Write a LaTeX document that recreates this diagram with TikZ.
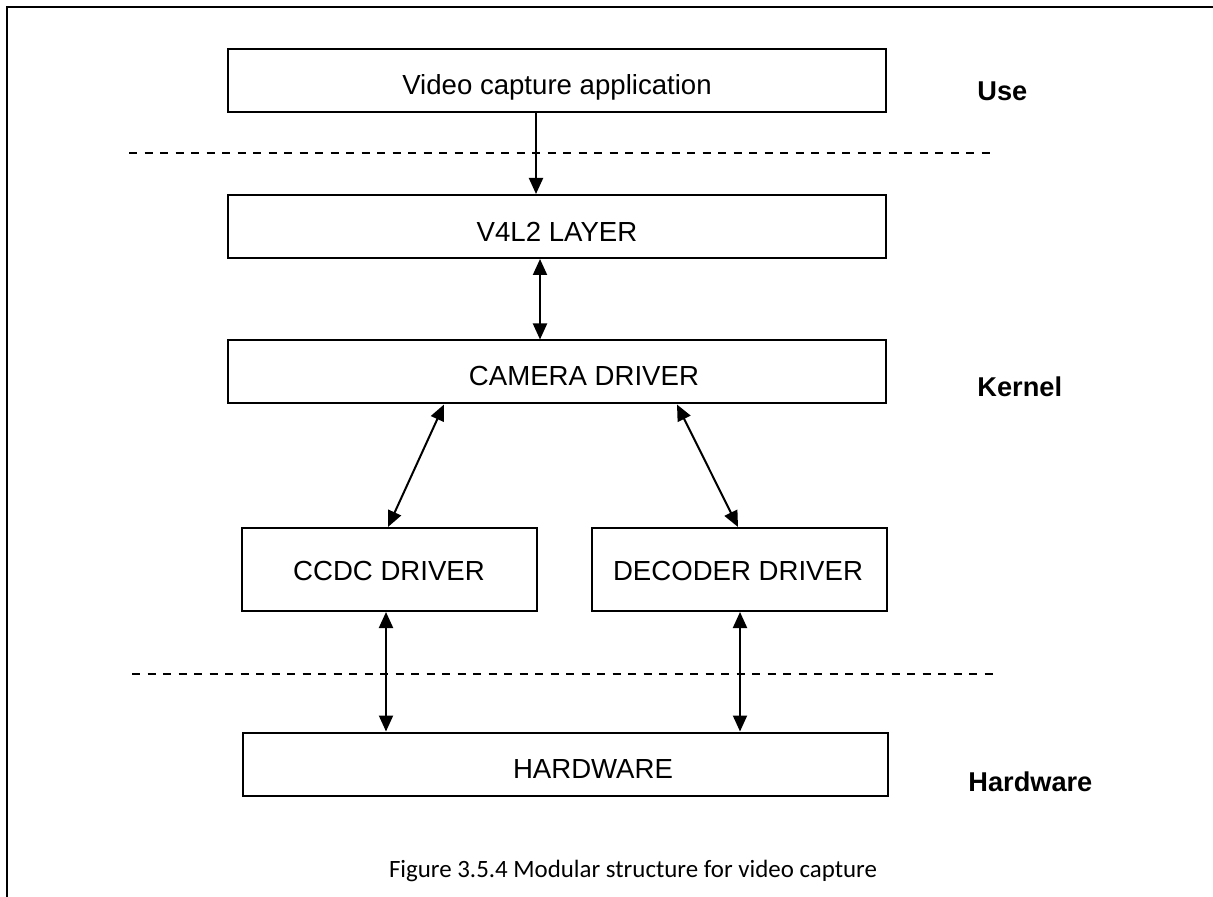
\documentclass[tikz,border=0pt]{standalone}
\usepackage{fontspec}
\setmainfont{Liberation Sans}
\newfontfamily\capfont{Carlito}
\usetikzlibrary{arrows.meta}
\begin{document}
\begin{tikzpicture}[x=0.5pt,y=-0.5pt,
  layer/.style={draw, line width=1pt, inner sep=0pt, minimum height=31.5pt},
  wide/.style={layer, minimum width=329pt},
  drv/.style={layer, minimum width=147.5pt, minimum height=41.5pt},
  boxtext/.style={anchor=base, inner sep=0pt, font=\fontsize{13.8}{16}\selectfont},
  side/.style={anchor=base west, inner sep=0pt, font=\fontsize{13.6}{16}\selectfont\bfseries},
  tip/.style={Triangle[length=8pt,width=7pt]},
  link/.style={line width=1pt, -{Triangle[length=8pt,width=7pt]}},
  both/.style={line width=1pt, {Triangle[length=8pt,width=7pt]}-{Triangle[length=8pt,width=7pt]}},
  divider/.style={line width=1pt, dash pattern=on 4pt off 3.75pt}]
\useasboundingbox (0,0) rectangle (1213,897);

% page frame (top and left rules)
\draw[line width=1.4pt] (7,897) -- (7,7) -- (1213,7);

% layer boxes
\node[wide] (app) at (557,80.5) {};
\node[wide] (v4l2) at (557,226.5) {};
\node[wide] (cam) at (557,372) {};
\node[drv] (ccdc) at (389,569.5) {};
\node[drv] (dec) at (739.5,569.5) {};
\node[layer, minimum width=322.5pt] (hw) at (565.5,764) {};

% box captions
\node[boxtext] (appT) at (557,95) {Video capture application};
\node[boxtext] (v4l2T) at (557,242) {V4L2 LAYER};
\node[boxtext] (camT) at (584,386) {CAMERA DRIVER};
\node[boxtext] (ccdcT) at (389,580) {CCDC DRIVER};
\node[boxtext] (decT) at (738,580) {DECODER DRIVER};
\node[boxtext] (hwT) at (593,778) {HARDWARE};

% layer names
\node[side] (useL) at (977,101) {Use};
\node[side] (kernL) at (977,396) {Kernel};
\node[side] (hwL) at (968,791) {Hardware};

% layer boundaries
\coordinate (d1a) at (129,153);
\coordinate (d1b) at (991,153);
\coordinate (d2a) at (132,674);
\coordinate (d2b) at (993,674);
\draw[divider] (d1a) -- (d1b);
\draw[divider] (d2a) -- (d2b);

% connector columns
\coordinate (xa) at (536,0);
\coordinate (xb) at (540,0);
\coordinate (xc) at (444,0);
\coordinate (xd) at (388,0);
\coordinate (xe) at (677,0);
\coordinate (xf) at (738,0);
\coordinate (xg) at (386,0);
\coordinate (xh) at (740,0);

\draw[link] (app.south -| xa) -- (v4l2.north -| xa);
\draw[both] (v4l2.south -| xb) -- (cam.north -| xb);
\draw[both] (cam.south -| xc) -- (ccdc.north -| xd);
\draw[both] (cam.south -| xe) -- (dec.north -| xf);
\draw[both] (ccdc.south -| xg) -- (hw.north -| xg);
\draw[both] (dec.south -| xh) -- (hw.north -| xh);

% figure caption
\node[anchor=base, inner sep=0pt, font=\capfont\fontsize{12.45}{15}\selectfont] (cap) at (633,877)
  {Figure 3.5.4 Modular structure for video capture};
\end{tikzpicture}
\end{document}
